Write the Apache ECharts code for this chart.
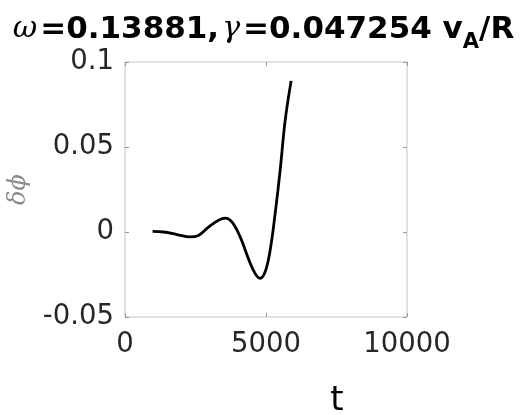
<!DOCTYPE html>
<html>
<head>
<meta charset="utf-8">
<script src="https://cdn.jsdelivr.net/npm/echarts@6/dist/echarts.min.js"></script>
<style>
  html, body { margin: 0; padding: 0; background: #fff; }
  #chart { width: 524px; height: 415px; }
</style>
</head>
<body>
<div id="chart"></div>
<script>
// time samples and perturbation values
const tValues = [978, 1367, 1842, 2313, 2607, 2962, 3316, 3553, 3790, 4084, 4379, 4616, 4793, 4970, 5147, 5324, 5501, 5679, 5891]
const dphiValues = [0.0004, 0.0, -0.0015, -0.0029, -0.002, 0.0029, 0.0069, 0.0082, 0.0059, -0.0029, -0.0158, -0.0245, -0.0272, -0.0234, -0.0107, 0.0108, 0.0362, 0.0655, 0.0889]

const xTicks = { min: 0, max: 10000, interval: 5000 }
const yTicks = { min: -0.05, max: 0.1, interval: 0.05 }

const chart = echarts.init(document.getElementById('chart'))

const boxColor = '#c4c4c4'
const labelColor = '#262626'
const tick = { show: true, inside: true, length: 4, lineStyle: { color: '#999' } }

const tickOnly = {
  axisLine: { show: false, onZero: false },
  axisTick: tick,
  splitLine: { show: false },
  axisLabel: { show: false },
}

const fmt = (v) => (Math.abs(v) < 1e-9 ? '0' : String(+v.toFixed(2)))

chart.setOption({
  animation: false,
  title: {
    text: '{g|ω}{a|=0.13881,}{g|γ}{a|=0.047254 v}{s|A}{a|/R}',
    left: 'center',
    top: 1,
    textStyle: {
      rich: {
        a: { fontFamily: 'DejaVu Sans', fontWeight: 'bold', fontSize: 31, color: '#000' },
        g: { fontFamily: 'DejaVu Serif', fontStyle: 'italic', fontWeight: 'normal', fontSize: 30, color: '#000', padding: [0, 3, 0, 3] },
        s: { fontFamily: 'DejaVu Sans', fontWeight: 'bold', fontSize: 21, color: '#000', verticalAlign: 'bottom', padding: [26, 0, 0, 0] },
      },
    },
  },
  grid: {
    left: 125, right: 117, top: 62, bottom: 98,
    outerBoundsMode: 'none',
    containLabel: false,
    show: true, borderColor: boxColor, borderWidth: 1,
  },
  xAxis: [{
    type: 'value',
    min: xTicks.min, max: xTicks.max, interval: xTicks.interval,
    name: 't',
    nameLocation: 'middle',
    nameGap: 67,
    nameTextStyle: { fontFamily: 'DejaVu Sans', fontSize: 34, color: '#000', padding: [0, 0, 0, 142] },
    axisLine: { show: false, onZero: false },
    axisTick: tick,
    splitLine: { show: false },
    axisLabel: { fontFamily: 'DejaVu Sans', fontSize: 27.5, color: labelColor, margin: 14, formatter: (v) => String(v) },
  }, Object.assign({
    type: 'value', position: 'top',
    min: xTicks.min, max: xTicks.max, interval: xTicks.interval,
  }, tickOnly)],
  yAxis: [{
    type: 'value',
    min: yTicks.min, max: yTicks.max, interval: yTicks.interval,
    name: 'δϕ',
    nameLocation: 'middle',
    nameGap: 94,
    nameRotate: 90,
    nameTextStyle: { fontFamily: 'DejaVu Serif', fontStyle: 'italic', fontSize: 24, color: '#8a8a8a' },
    axisLine: { show: false, onZero: false },
    axisTick: tick,
    splitLine: { show: false },
    axisLabel: { fontFamily: 'DejaVu Sans', fontSize: 27.5, color: labelColor, margin: 11, formatter: fmt },
  }, Object.assign({
    type: 'value', position: 'right',
    min: yTicks.min, max: yTicks.max, interval: yTicks.interval,
  }, tickOnly)],
  series: [{
    type: 'line',
    data: tValues.map((t, i) => [t, dphiValues[i]]),
    smooth: 0.4,
    showSymbol: false,
    lineStyle: { color: '#000', width: 2.8 },
  }],
})
</script>
</body>
</html>
